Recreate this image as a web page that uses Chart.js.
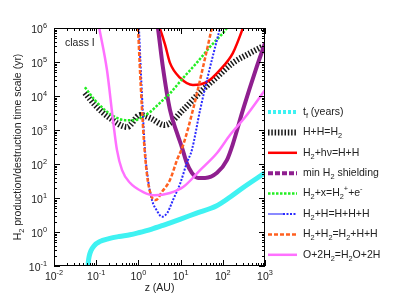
<!DOCTYPE html>
<html>
<head>
<meta charset="utf-8">
<script src="https://cdn.jsdelivr.net/npm/chart.js@4"></script>
<style>
  html, body { margin: 0; padding: 0; background: #fff; }
  canvas { display: block; }
</style>
</head>
<body>
<canvas id="chart" width="415" height="297"></canvas>
<script>
// values (z in AU, time scale in yr)
const tfZ = [0.064, 0.065, 0.068, 0.075, 0.09, 0.12, 0.2, 0.35, 0.63, 1, 2, 4, 10, 24, 70, 150, 300, 1000];
const tfT = [0.1, 0.13, 0.19, 0.28, 0.4, 0.52, 0.64, 0.74, 0.83, 0.95, 1.2, 1.6, 2.4, 3.6, 5.8, 10.7, 20, 55];

const hhZ = [0.054, 0.093, 0.21, 0.54, 1.1, 1.9, 4.2, 11.5, 29, 73, 173, 440, 850];
const hhT = [12300, 5500, 2250, 1230, 2760, 2250, 1400, 3900, 13000, 36000, 94000, 183000, 280000];

const photoZ = [2.75, 3.2, 4.3, 5.6, 9.8, 19.6, 42, 85, 173, 300, 360];
const photoT = [1.6e6, 1e6, 3.2e5, 94000, 34000, 21000, 26000, 58000, 183000, 1e6, 2e6];

const shieldZ = [2.76, 2.9, 3.8, 5.6, 8.2, 10.7, 14, 18.5, 26, 38, 73, 125, 170, 300, 600, 1000];
const shieldT = [1.5e6, 1e6, 71000, 3900, 820, 316, 107, 55, 39, 39, 55, 130, 360, 3900, 58000, 360000];

const ionZ = [0.054, 0.093, 0.16, 0.28, 0.48, 0.83, 1.2, 1.9, 3.2, 5.6, 11.5, 24, 50, 125, 195];
const ionT = [18000, 7600, 3900, 2400, 1950, 1950, 2400, 3400, 6200, 12000, 34000, 94000, 280000, 1e6, 2.5e6];

const dissHZ = [1.03, 1.2, 1.43, 1.7, 2.1, 2.76, 3.6, 4.8, 6.6, 9.8, 14, 18.5, 29, 50, 86];
const dissHT = [1e6, 15000, 260, 34, 8.7, 4.2, 2.8, 3.6, 8.7, 27, 107, 260, 3900, 71000, 1e6];

const dissH2Z = [0.98, 1.15, 1.35, 1.6, 2.0, 2.6, 3.6, 5.6, 8.2, 11.5, 19.6, 34, 55];
const dissH2T = [1e6, 15000, 500, 48, 12, 8.7, 15, 34, 130, 360, 3900, 71000, 1e6];

const oxZ = [0.118, 0.18, 0.25, 0.31, 0.41, 0.63, 1.3, 2.45, 5.6, 11.5, 29, 73, 148, 340, 1000];
const oxT = [1e6, 58000, 1950, 260, 66, 28, 15, 12, 14, 21, 66, 210, 710, 2400, 15000];

const xTickExp = [-2, -1, 0, 1, 2, 3];
const yTickExp = [-1, 0, 1, 2, 3, 4, 5, 6];

const FONT = '"Liberation Sans", Arial, sans-serif';

function pts(zs, ts) {
    return zs.map((z, i) => ({ x: z, y: ts[i] }));
}

const series = [
    { z: tfZ, t: tfT, color: '#3ff2f2', width: 5, dash: [] },
    { z: hhZ, t: hhT, color: '#1a1a1a', width: 6, dash: [1.5, 1.8] },
    { z: photoZ, t: photoT, color: '#ff0000', width: 2.5, dash: [] },
    { z: shieldZ, t: shieldT, color: '#8f1f8f', width: 4, dash: [] },
    { z: ionZ, t: ionT, color: '#22ee22', width: 2.5, dash: [2.5, 1.5] },
    { z: dissHZ, t: dissHT, color: '#2a2aff', width: 2, dash: [2, 1.5] },
    { z: dissH2Z, t: dissH2T, color: '#ff6020', width: 2.5, dash: [4, 2] },
    { z: oxZ, t: oxT, color: '#ff70ff', width: 2.5, dash: [] }
];

// legend labels: [text, 0 normal | 1 subscript | 2 superscript]
const legendLabels = [
    [['t', 0], ['f', 1], [' (years)', 0]],
    [['H+H=H', 0], ['2', 1]],
    [['H', 0], ['2', 1], ['+h\u03bd=H+H', 0]],
    [['min H', 0], ['2', 1], [' shielding', 0]],
    [['H', 0], ['2', 1], ['+x=H', 0], ['2', 1], ['+', 2], ['+e', 0], ['-', 2]],
    [['H', 0], ['2', 1], ['+H=H+H+H', 0]],
    [['H', 0], ['2', 1], ['+H', 0], ['2', 1], ['=H', 0], ['2', 1], ['+H+H', 0]],
    [['O+2H', 0], ['2', 1], ['=H', 0], ['2', 1], ['O+2H', 0]]
];

function richWidth(ctx, parts, size) {
    let w = 0;
    parts.forEach(([s, k]) => {
        ctx.font = (k ? size * 0.7 : size) + 'px ' + FONT;
        w += ctx.measureText(s).width;
    });
    return w;
}

function drawRich(ctx, parts, x, y, size, align) {
    const w = richWidth(ctx, parts, size);
    let cx = align === 'right' ? x - w : align === 'center' ? x - w / 2 : x;
    ctx.textBaseline = 'middle';
    ctx.textAlign = 'left';
    parts.forEach(([s, k]) => {
        const fs = k ? size * 0.7 : size;
        ctx.font = fs + 'px ' + FONT;
        const dy = k === 1 ? size * 0.35 : k === 2 ? -size * 0.4 : 0;
        ctx.fillText(s, cx, y + dy);
        cx += ctx.measureText(s).width;
    });
}

const decor = {
    id: 'decor',
    afterDraw(chart) {
        const ctx = chart.ctx;
        const a = chart.chartArea;
        const xs = chart.scales.x, ys = chart.scales.y;
        ctx.save();
        ctx.strokeStyle = '#000';
        ctx.fillStyle = '#222';
        ctx.lineWidth = 1;
        ctx.setLineDash([]);
        ctx.strokeRect(a.left + 0.5, a.top + 0.5, a.right - a.left - 1, a.bottom - a.top - 1);

        ctx.beginPath();
        for (let k = -2; k <= 3; k++) {
            for (let m = 1; m <= 9; m++) {
                const v = m * Math.pow(10, k);
                if (v > 1000) break;
                const px = Math.round(xs.getPixelForValue(v)) + 0.5;
                const len = m === 1 ? 6 : 3;
                ctx.moveTo(px, a.bottom); ctx.lineTo(px, a.bottom - len);
                ctx.moveTo(px, a.top); ctx.lineTo(px, a.top + len);
            }
        }
        for (let k = -1; k <= 6; k++) {
            for (let m = 1; m <= 9; m++) {
                const v = m * Math.pow(10, k);
                if (v > 1e6) break;
                const py = Math.round(ys.getPixelForValue(v)) + 0.5;
                const len = m === 1 ? 6 : 3;
                ctx.moveTo(a.left, py); ctx.lineTo(a.left + len, py);
                ctx.moveTo(a.right, py); ctx.lineTo(a.right - len, py);
            }
        }
        ctx.stroke();

        xTickExp.forEach(e => {
            const px = xs.getPixelForValue(Math.pow(10, e));
            drawRich(ctx, [['10', 0], [String(e), 2]], px, a.bottom + 11, 10.5, 'center');
        });
        yTickExp.forEach(e => {
            const py = ys.getPixelForValue(Math.pow(10, e));
            drawRich(ctx, [['10', 0], [String(e), 2]], a.left - 7, py + 2, 10.5, 'right');
        });

        drawRich(ctx, [['z (AU)', 0]], (a.left + a.right) / 2, 288, 10.5, 'center');
        ctx.save();
        ctx.translate(18, (a.top + a.bottom) / 2);
        ctx.rotate(-Math.PI / 2);
        drawRich(ctx, [['H', 0], ['2', 1], [' production/destruction time scale (yr)', 0]], 0, 0, 10.5, 'center');
        ctx.restore();

        drawRich(ctx, [['class I', 0]], 65, 43, 10.5, 'left');

        // legend
        legendLabels.forEach((parts, i) => {
            const y = 112 + i * 20.4;
            const s = series[i];
            ctx.save();
            ctx.strokeStyle = s.color;
            ctx.lineWidth = s.width === 5 ? 4 : s.width;
            if (i === 0) ctx.setLineDash([3, 2]);
            else if (i === 3) ctx.setLineDash([5, 2]);
            else ctx.setLineDash(s.dash);
            if (i === 5) {
                ctx.strokeStyle = '#8a8aff';
                ctx.setLineDash([]);
                ctx.beginPath(); ctx.moveTo(268, y); ctx.lineTo(283, y); ctx.stroke();
                ctx.strokeStyle = s.color;
                ctx.setLineDash(s.dash);
                ctx.beginPath(); ctx.moveTo(283, y); ctx.lineTo(297, y); ctx.stroke();
            } else {
                ctx.beginPath(); ctx.moveTo(268, y); ctx.lineTo(297, y); ctx.stroke();
            }
            ctx.restore();
            drawRich(ctx, parts, 303, y, 10.5, 'left');
        });
        ctx.restore();
    }
};

new Chart(document.getElementById('chart'), {
    type: 'line',
    data: {
        datasets: series.map((s, i) => ({
            data: pts(s.z, s.t),
            borderColor: s.color,
            borderWidth: s.width,
            borderDash: s.dash,
            pointRadius: 0,
            fill: false,
            cubicInterpolationMode: 'monotone',
            clip: 0,
            order: series.length - i
        }))
    },
    options: {
        responsive: false,
        animation: false,
        devicePixelRatio: 1,
        layout: { padding: { left: 54, top: 28, right: 150, bottom: 31 } },
        plugins: { legend: { display: false }, tooltip: { enabled: false } },
        scales: {
            x: { type: 'logarithmic', min: 0.01, max: 1000, display: false },
            y: { type: 'logarithmic', min: 0.1, max: 1e6, display: false }
        }
    },
    plugins: [decor]
});
</script>
</body>
</html>
